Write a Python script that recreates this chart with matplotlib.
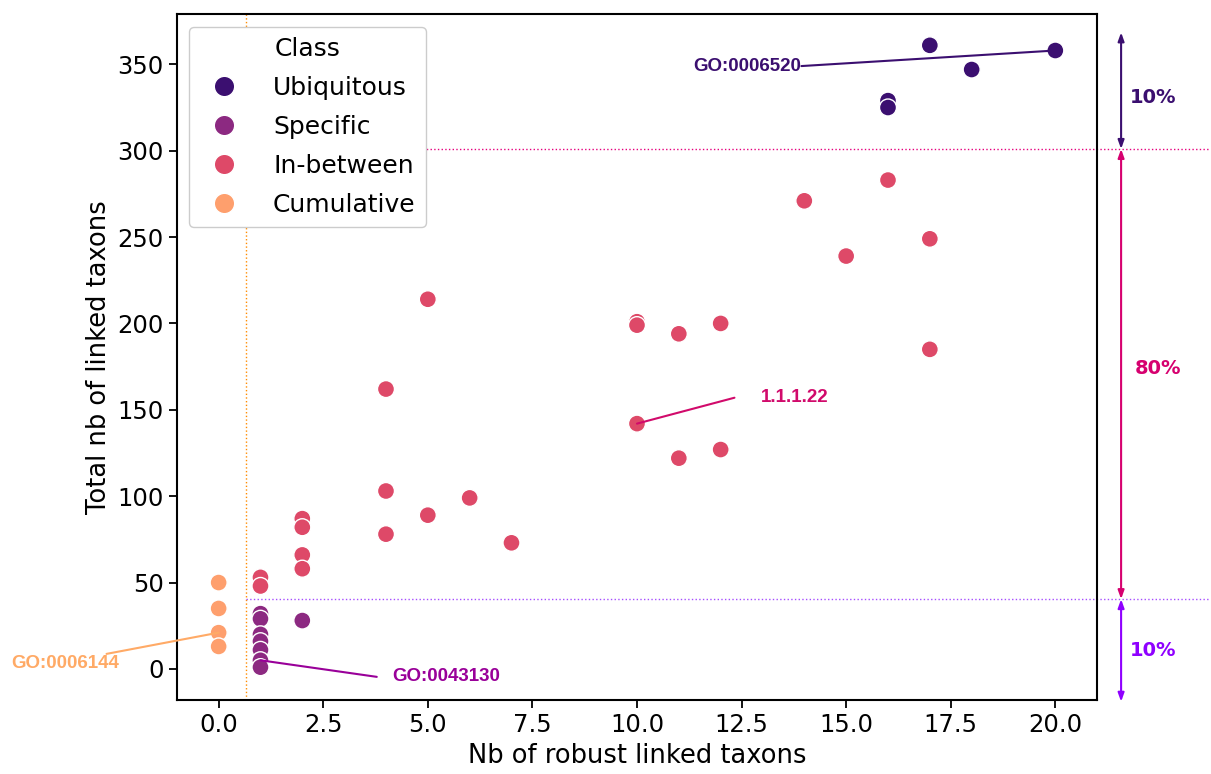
import numpy as np
import pandas as pd
import matplotlib
matplotlib.use("Agg")
import matplotlib.pyplot as plt
import matplotlib.transforms as mtransforms
import seaborn as sns

# Nb of robust linked taxons / total nb of linked taxons, per class
ubiq_x = [17, 18, 20, 16, 16]
ubiq_y = [361, 347, 358, 329, 325]

spec_x = [1, 1, 1, 1, 1, 1, 1, 2]
spec_y = [32, 29, 20, 16, 11, 5, 1, 28]

betw_x = [16, 14, 17, 15, 5, 10, 10, 11, 12, 17, 4, 10, 11, 12, 4, 6, 5, 4,
          7, 2, 2, 2, 2, 1, 1]
betw_y = [283, 271, 249, 239, 214, 201, 199, 194, 200, 185, 162, 142, 122,
          127, 103, 99, 89, 78, 73, 87, 82, 66, 58, 53, 48]

cumu_x = [0, 0, 0, 0]
cumu_y = [50, 35, 21, 13]

classes = ["Ubiquitous", "Specific", "In-between", "Cumulative"]

# thresholds used to split the classes
x_thr = 0.645
y_low = 40.4
y_high = 301

# highlighted terms: label, point (x, y), line end, text position
highlights = [
    ("GO:0006520", (20, 358), (13.93, 349), (13.93, 349), "right", "#3b0f70"),
    ("1.1.1.22", (10, 142), (12.33, 157), (12.97, 157), "left", "#d10a6b"),
    ("GO:0043130", (1, 5), (3.78, -4.6), (4.16, -4.6), "left", "#990099"),
    ("GO:0006144", (0, 21), (-2.68, 8.7), (-2.37, 2.9), "right", "#ffaa66"),
]

df = pd.DataFrame({
    "x": ubiq_x + spec_x + betw_x + cumu_x,
    "y": ubiq_y + spec_y + betw_y + cumu_y,
    "Class": (["Ubiquitous"] * len(ubiq_x) + ["Specific"] * len(spec_x)
              + ["In-between"] * len(betw_x) + ["Cumulative"] * len(cumu_x)),
})

fig = plt.figure(figsize=(12.11, 7.74), dpi=100)
ax = fig.add_axes([0.146, 0.0956, 0.76, 0.886])

palette = sns.color_palette("magma", 4)
sns.scatterplot(data=df, x="x", y="y", hue="Class", hue_order=classes,
                palette=palette, s=150, edgecolor="white", linewidth=1,
                ax=ax, zorder=3)

ax.set_xlim(-1, 21)
ax.set_ylim(-18, 379)
ax.set_xlabel("Nb of robust linked taxons", fontsize=18.5)
ax.set_ylabel("Total nb of linked taxons", fontsize=18.5)
ax.tick_params(labelsize=17.5, width=1.3, length=6)
for sp in ax.spines.values():
    sp.set_linewidth(1.5)

leg = ax.legend(title="Class", loc="upper left", fontsize=18,
                title_fontsize=18, markerscale=1.2, handletextpad=0.95,
                framealpha=1, labelspacing=0.6)
leg.set_zorder(5)

# threshold lines
x_far = -1 + 22 * 1.123
ax.axvline(x_thr, color="#ff8c00", ls=":", lw=1, zorder=1)
ax.plot([x_thr, x_far], [y_low, y_low], color="#a64dff", ls=":", lw=1,
        clip_on=False, zorder=1)
ax.plot([x_thr, x_far], [y_high, y_high], color="#e6007e", ls=":", lw=1,
        clip_on=False, zorder=1)

# share arrows on the right
trans = mtransforms.blended_transform_factory(ax.transAxes, ax.transData)
arrows = [(y_high, 368.5, "#3b0f70", "10%", 331, 1.036),
          (y_low, y_high, "#d6006f", "80%", 174, 1.041),
          (-19, y_low, "#8f00ff", "10%", 10.4, 1.036)]
for y0, y1, col, lab, ylab, xlab in arrows:
    ax.annotate("", xy=(1.026, y1), xycoords=trans, xytext=(1.026, y0),
                textcoords=trans, annotation_clip=False,
                arrowprops=dict(arrowstyle="<|-|>,head_length=0.5,head_width=0.18",
                                color=col, lw=1.5, shrinkA=0, shrinkB=0))
    ax.text(xlab, ylab, lab, transform=trans, color=col, fontsize=14,
            fontweight="bold", ha="left", va="center", family="DejaVu Sans")

# highlighted terms
for lab, pt, end, txt, ha, col in highlights:
    ax.annotate("", xy=pt, xytext=end, annotation_clip=False,
                arrowprops=dict(arrowstyle="-", color=col, lw=1.5,
                                shrinkA=0, shrinkB=0), zorder=4)
    ax.text(txt[0], txt[1], lab, color=col, fontsize=13.5, fontweight="bold",
            ha=ha, va="center", family="Liberation Sans", clip_on=False)

fig.savefig("out.png", dpi=100)
